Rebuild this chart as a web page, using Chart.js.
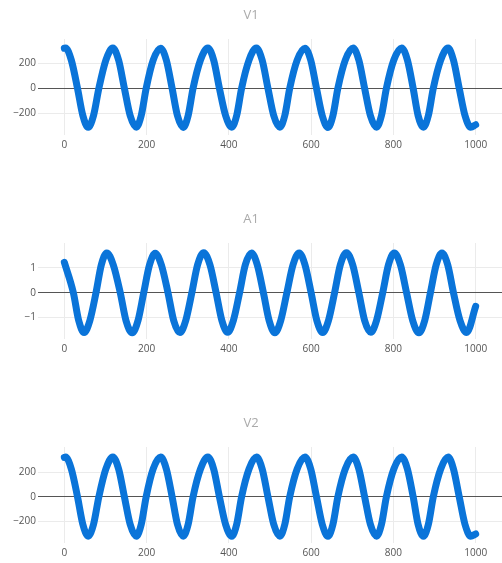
<!DOCTYPE html>
<html>
<head>
<meta charset="utf-8">
<script src="https://cdn.jsdelivr.net/npm/chart.js@4.4.1/dist/chart.umd.min.js"></script>
<style>
    body { margin: 0; background: #ffffff; }
    .painel { position: absolute; left: 0; width: 502px; height: 155px; }
</style>
</head>
<body>
<div class="painel" style="top:0px"><canvas id="graficoV1" width="502" height="155"></canvas></div>
<div class="painel" style="top:204px"><canvas id="graficoA1" width="502" height="155"></canvas></div>
<div class="painel" style="top:408px"><canvas id="graficoV2" width="502" height="155"></canvas></div>
<script>
// ticks dos eixos
const ticksX = [0, 200, 400, 600, 800, 1000];
const ticksV = [-200, 0, 200];
const ticksA = [-1, 0, 1];

// V1 e V2: picos, meias-descidas, cruzamentos do zero e vales
const tempoV = [0, 3, 17, 32, 45, 58, 71, 84, 101, 118,
                132, 146, 160, 175, 187, 199, 216, 234, 248, 262,
                275, 289, 301, 313, 331, 349, 363, 377, 392, 407,
                419, 431, 449, 467, 481, 495, 509, 524, 536, 548,
                566, 585, 599, 613, 627, 641, 653, 665, 683, 702,
                716, 730, 744, 759, 771, 783, 801, 820, 834, 848,
                860, 873, 885, 897, 915, 933, 946, 960, 974, 988,
                1000];
const valoresV1 = [320, 322, 225, 0, -218, -312, -218, 0, 225, 322,
                   225, 0, -218, -311, -218, 0, 225, 321, 225, 0,
                   -219, -313, -219, 0, 226, 323, 226, 0, -218, -312,
                   -218, 0, 225, 322, 225, 0, -218, -311, -218, 0,
                   225, 321, 225, 0, -219, -313, -219, 0, 225, 322,
                   225, 0, -218, -312, -218, 0, 226, 323, 226, 0,
                   -218, -311, -218, 0, 225, 322, 225, 0, -218, -312,
                   -292];
const valoresV2 = [322, 325, 228, 0, -227, -324, -227, 0, 228, 326,
                   228, 0, -227, -325, -227, 0, 228, 325, 228, 0,
                   -227, -324, -227, 0, 228, 326, 228, 0, -227, -325,
                   -227, 0, 228, 325, 228, 0, -227, -324, -227, 0,
                   228, 326, 228, 0, -227, -325, -227, 0, 228, 325,
                   228, 0, -227, -324, -227, 0, 228, 326, 228, 0,
                   -227, -325, -227, 0, 228, 325, 228, 0, -227, -324,
                   -306];

// A1
const tempoA = [0, 22, 35, 48, 62, 77, 90, 103, 119, 136,
                150, 165, 179, 193, 207, 221, 236, 252, 266, 281,
                295, 310, 324, 339, 354, 369, 383, 397, 411, 426,
                440, 455, 469, 484, 498, 512, 526, 541, 556, 571,
                585, 600, 614, 628, 642, 657, 671, 686, 701, 716,
                730, 745, 759, 774, 788, 802, 817, 832, 847, 862,
                876, 890, 904, 918, 932, 946, 962, 978, 1000];
const valoresA1 = [1.23, 0, -1.13, -1.61, -1.13, 0, 1.13, 1.61, 1.13, 0,
                   -1.13, -1.62, -1.13, 0, 1.12, 1.60, 1.12, 0, -1.13, -1.61,
                   -1.13, 0, 1.13, 1.62, 1.13, 0, -1.12, -1.60, -1.12, 0,
                   1.13, 1.61, 1.13, 0, -1.13, -1.62, -1.13, 0, 1.13, 1.61,
                   1.13, 0, -1.13, -1.61, -1.13, 0, 1.13, 1.62, 1.13, 0,
                   -1.12, -1.60, -1.12, 0, 1.13, 1.61, 1.13, 0, -1.13, -1.62,
                   -1.13, 0, 1.13, 1.61, 1.13, 0, -1.13, -1.61, -0.55];

Chart.defaults.font.family = '"Open Sans", sans-serif';

function formatarTick(valor) {
    return valor < 0 ? '\u2212' + Math.abs(valor) : String(valor);
}

function criarGrafico(id, titulo, tempos, valores, ticksY, minY, maxY) {
    const pontos = tempos.map((t, i) => ({ x: t, y: valores[i] }));

    new Chart(document.getElementById(id), {
        type: 'line',
        data: {
            datasets: [{
                data: pontos,
                borderColor: '#0a74d9',
                borderWidth: 7,
                borderCapStyle: 'round',
                borderJoinStyle: 'round',
                pointRadius: 0,
                cubicInterpolationMode: 'monotone',
                fill: false
            }]
        },
        options: {
            responsive: false,
            animation: false,
            layout: { padding: 0 },
            plugins: {
                legend: { display: false },
                tooltip: { enabled: false },
                title: {
                    display: true,
                    text: titulo,
                    color: '#aaaaaa',
                    font: { size: 13, weight: 'normal', lineHeight: 1.2 },
                    padding: { top: 7, bottom: 16.4 }
                }
            },
            scales: {
                x: {
                    type: 'linear',
                    min: -64,
                    max: 1064,
                    afterBuildTicks: escala => { escala.ticks = ticksX.map(v => ({ value: v })); },
                    afterFit: escala => { escala.height = 20; },
                    ticks: { padding: 4, color: '#555555', font: { size: 10 }, callback: formatarTick },
                    grid: { color: '#ebebeb', drawTicks: false },
                    border: { display: false }
                },
                y: {
                    min: minY,
                    max: maxY,
                    afterBuildTicks: escala => { escala.ticks = ticksY.map(v => ({ value: v })); },
                    afterFit: escala => { escala.width = 38; },
                    ticks: { padding: 2, color: '#555555', font: { size: 10 }, callback: formatarTick },
                    grid: {
                        color: ctx => (ctx.tick && ctx.tick.value === 0) ? '#555555' : '#ebebeb',
                        drawTicks: false
                    },
                    border: { display: false }
                }
            }
        }
    });
}

criarGrafico('graficoV1', 'V1', tempoV, valoresV1, ticksV, -374, 394);
criarGrafico('graficoA1', 'A1', tempoA, valoresA1, ticksA, -1.87, 2.01);
criarGrafico('graficoV2', 'V2', tempoV, valoresV2, ticksV, -380, 408);
</script>
</body>
</html>
